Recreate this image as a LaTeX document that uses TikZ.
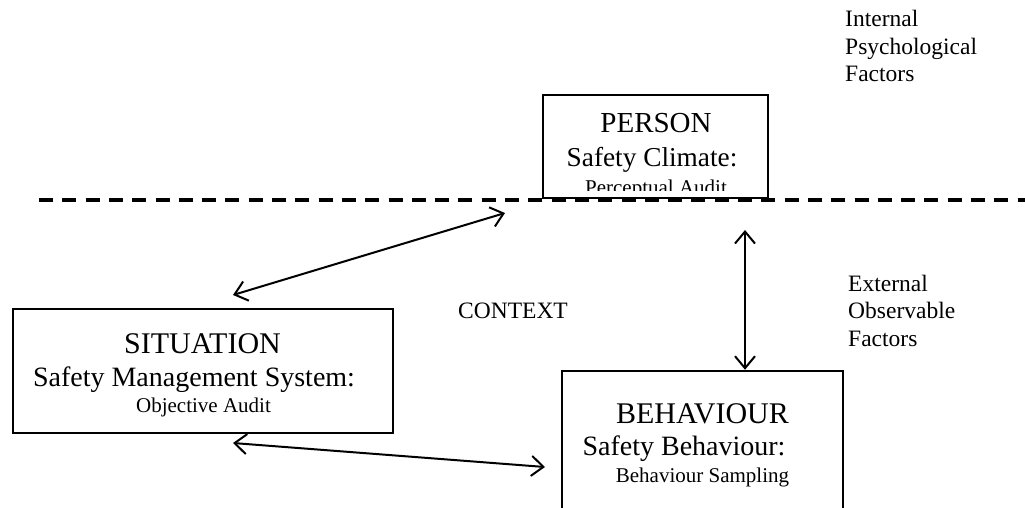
\documentclass[tikz,border=0pt]{standalone}
\usepackage{fontspec}
\setmainfont{Liberation Serif}
\usetikzlibrary{arrows.meta}
\tikzset{
  box/.style={draw=black, line width=2.5pt, fill=none, inner sep=0pt},
  big/.style={anchor=base, inner sep=0pt, font=\fontsize{29}{34}\selectfont},
  mid/.style={anchor=base, inner sep=0pt, font=\fontsize{28}{34}\selectfont},
  small/.style={anchor=base, inner sep=0pt, font=\fontsize{21}{25}\selectfont},
  side/.style={anchor=base west, inner sep=0pt, font=\fontsize{23.5}{28}\selectfont},
  arr/.style={line width=2pt, {Straight Barb[length=12pt,width=20pt,line width=2pt]}-{Straight Barb[length=12pt,width=20pt,line width=2pt]}},
  divider/.style={line width=4pt, dash pattern=on 14pt off 9.3pt}
}
\begin{document}
\begin{tikzpicture}[x=1pt,y=-1pt]
\clip (0,0) rectangle (1025,508);
\fill[white] (0,0) rectangle (1025,508);

% boxes
\node[box, minimum width=225pt, minimum height=103pt] (person) at (655.5,146.5) {};
\node[box, minimum width=380pt, minimum height=124pt] (situation) at (203,371) {};
\node[box, minimum width=281pt, minimum height=170pt] (behaviour) at (702.5,456) {};

% dashed divider
\coordinate (dl) at (39,199.5);
\coordinate (dr) at (1030,199.5);
\draw[divider] (dl) -- (dr);

% PERSON texts
\node[big] (pt1) at (656,133) {PERSON};
\node[mid, font=\fontsize{27.3}{32}\selectfont] (pt2) at (652,166) {Safety Climate:};
\begin{scope}
  \clip (543,170) rectangle (768,190);
  \node[small] (pt3) at (656,194) {Perceptual Audit};
\end{scope}

% SITUATION texts
\node[big, font=\fontsize{30}{35}\selectfont] (st1) at (202.5,353) {SITUATION};
\node[mid] (st2) at (194,386) {Safety Management System:};
\node[small] (st3) at (203.5,412) {Objective Audit};

% BEHAVIOUR texts
\node[big, font=\fontsize{30}{35}\selectfont] (bt1) at (702.5,423) {BEHAVIOUR};
\node[mid] (bt2) at (684,455) {Safety Behaviour:};
\node[small] (bt3) at (702.5,482) {Behaviour Sampling};

% labels
\node[side] (ctx) at (458,318) {CONTEXT};
\node[side] (in1) at (845,27) {Internal};
\node[side] (in2) at (845,54.5) {Psychological};
\node[side] (in3) at (845,82) {Factors};
\node[side] (ex1) at (848,291) {External};
\node[side] (ex2) at (848,318.5) {Observable};
\node[side] (ex3) at (848,346) {Factors};

% connectors
\coordinate (a1s) at (233,295);
\coordinate (a1e) at (505,213);
\coordinate (a2s) at (233,443);
\coordinate (a2e) at (545,467);
\coordinate (a3s) at (745,230);
\draw[arr] (a1s) -- (a1e);
\draw[arr] (a2s) -- (a2e);
\draw[arr] (a3s) -- (a3s |- behaviour.north);
\end{tikzpicture}
\end{document}
